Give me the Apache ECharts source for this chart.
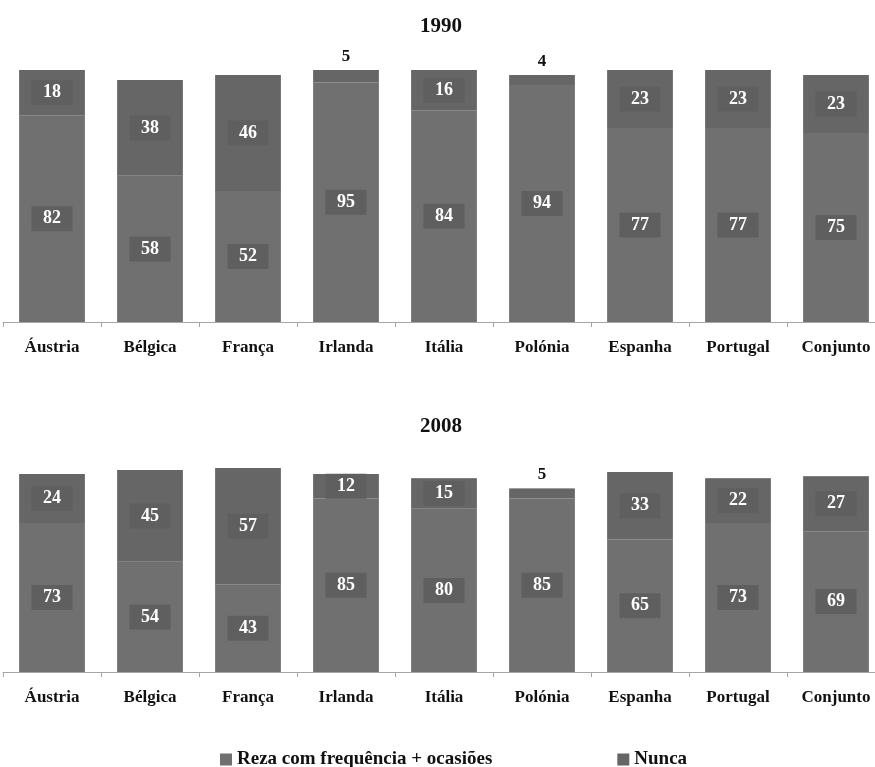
<!DOCTYPE html>
<html>
<head>
<meta charset="utf-8">
<script src="https://cdn.jsdelivr.net/npm/echarts@6/dist/echarts.min.js"></script>
<style>
html,body{margin:0;padding:0;background:#fff;overflow:hidden;}
#c{width:885px;height:767px;}
</style>
</head>
<body>
<div id="c"></div>
<script>
var categories = ['Áustria','Bélgica','França','Irlanda','Itália','Polónia','Espanha','Portugal','Conjunto'];
var reza1990 = [82, 58, 52, 95, 84, 94, 77, 77, 75];
var nunca1990 = [18, 38, 46, 5, 16, 4, 23, 23, 23];
var reza2008 = [73, 54, 43, 85, 80, 85, 65, 73, 69];
var nunca2008 = [24, 45, 57, 12, 15, 5, 33, 22, 27];
var titles = ['1990', '2008'];
var seriesNames = ['Reza com frequência + ocasiões', 'Nunca'];

var FONT = '"Liberation Serif", "DejaVu Serif", serif';
var colBottom = '#707070';
var colTop = '#666666';
var boxCol = '#5f5f5f';

function insideLabel() {
  return {
    show: true, position: 'inside', color: '#fff', fontFamily: FONT,
    fontWeight: 'bold', fontSize: 18, backgroundColor: boxCol,
    width: 29, align: 'center', padding: [4, 6, 3, 6]
  };
}
function topData(arr) {
  return arr.map(function (v) {
    if (v < 8) {
      return { value: v, label: { show: true, position: 'top', distance: 2, color: '#111', backgroundColor: 'transparent', fontFamily: FONT, fontWeight: 'bold', fontSize: 17 } };
    }
    return v;
  });
}
function totals(a, b) { return a.map(function (v, i) { return v + b[i]; }); }

var grids = [
  { left: 3, right: 0, top: 70, height: 252 },
  { left: 3, right: 0, top: 468, height: 204 }
];
var data = [[reza1990, nunca1990], [reza2008, nunca2008]];

var xAxes = [], yAxes = [], series = [], titleArr = [];
[0, 1].forEach(function (g) {
  xAxes.push({
    type: 'category', gridIndex: g, data: categories,
    axisLine: { lineStyle: { color: '#a6a6a6', width: 1 } },
    axisTick: { show: true, length: 5, lineStyle: { color: '#a6a6a6' } },
    axisLabel: { color: '#111', fontFamily: FONT, fontWeight: 'bold', fontSize: 17, margin: 17, interval: 0 }
  });
  yAxes.push({ type: 'value', gridIndex: g, min: 0, max: 100, show: false, splitLine: { show: false } });
  series.push({
    name: seriesNames[0], type: 'bar', stack: 's' + g, xAxisIndex: g, yAxisIndex: g,
    barCategoryGap: '33%', data: data[g][0],
    itemStyle: { color: colBottom }, label: insideLabel()
  });
  series.push({
    name: seriesNames[1], type: 'bar', stack: 's' + g, xAxisIndex: g, yAxisIndex: g,
    barCategoryGap: '33%', data: topData(data[g][1]),
    itemStyle: { color: colTop }, label: insideLabel()
  });
  series.push({
    name: 'outline' + g, type: 'bar', xAxisIndex: g, yAxisIndex: g, barGap: '-100%',
    barCategoryGap: '33%', data: totals(data[g][0], data[g][1]), silent: true, z: 1,
    itemStyle: { color: 'rgba(0,0,0,0)', borderColor: '#c4c4c4', borderWidth: 1 },
    label: { show: false }
  });
  titleArr.push({
    text: titles[g], left: 436, textAlign: 'center', top: g === 0 ? 11 : 411,
    textStyle: { fontFamily: FONT, fontWeight: 'bold', fontSize: 21, color: '#111' }
  });
});

var chart = echarts.init(document.getElementById('c'), null, { renderer: 'canvas' });
chart.setOption({
  animation: false,
  title: titleArr,
  grid: grids,
  xAxis: xAxes,
  yAxis: yAxes,
  legend: {
    data: seriesNames, left: 215, top: 745, itemGap: 125, itemWidth: 12, itemHeight: 12,
    icon: 'rect',
    textStyle: { fontFamily: FONT, fontWeight: 'bold', fontSize: 19, color: '#111' }
  },
  series: series
});
</script>
</body>
</html>
